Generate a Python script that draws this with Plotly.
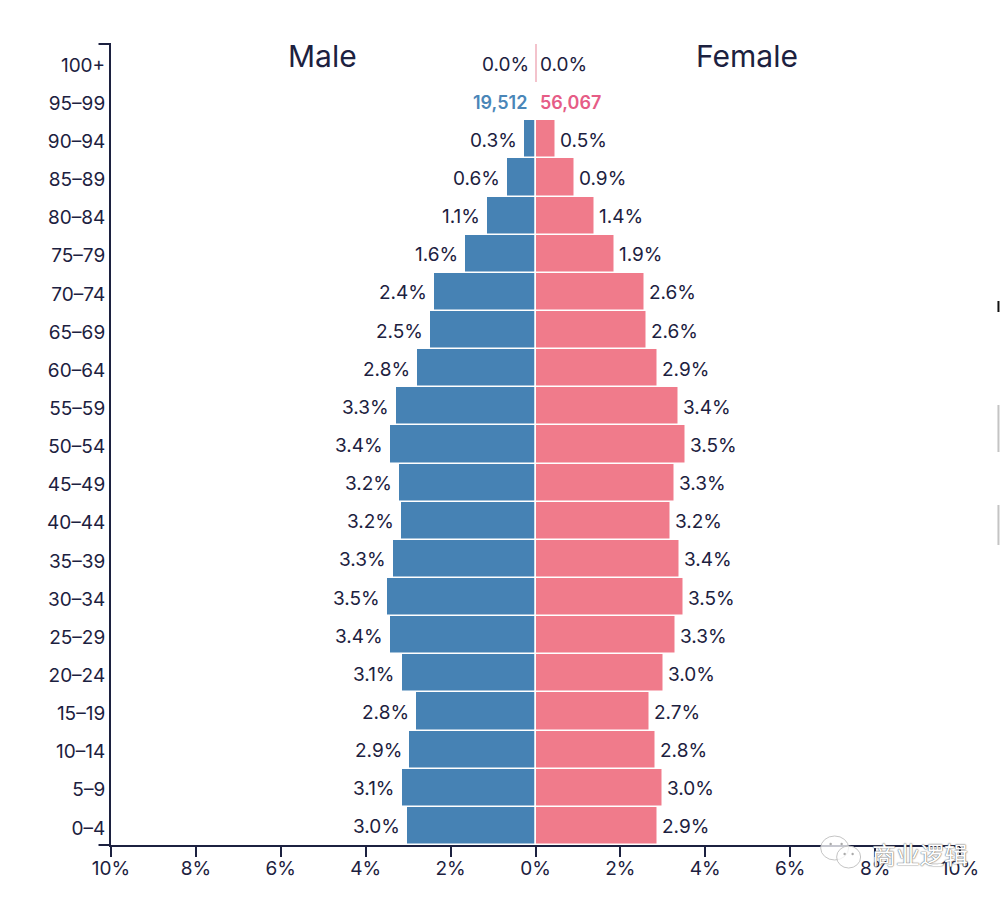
import plotly.graph_objects as go

age_groups = ["0–4","5–9","10–14","15–19","20–24","25–29","30–34","35–39","40–44","45–49",
              "50–54","55–59","60–64","65–69","70–74","75–79","80–84","85–89","90–94","95–99","100+"]
male_pct = [3.03,3.15,2.98,2.82,3.15,3.43,3.50,3.36,3.17,3.22,3.43,3.29,2.80,2.49,2.40,1.67,1.14,0.67,0.27,0,0]
female_pct = [2.89,3.00,2.84,2.70,3.03,3.31,3.50,3.40,3.19,3.29,3.54,3.38,2.89,2.63,2.58,1.87,1.41,0.94,0.49,0,0.02]
male_labels = ["3.0%","3.1%","2.9%","2.8%","3.1%","3.4%","3.5%","3.3%","3.2%","3.2%","3.4%","3.3%","2.8%","2.5%","2.4%","1.6%","1.1%","0.6%","0.3%","19,512","0.0%"]
female_labels = ["2.9%","3.0%","2.8%","2.7%","3.0%","3.3%","3.5%","3.4%","3.2%","3.3%","3.5%","3.4%","2.9%","2.6%","2.6%","1.9%","1.4%","0.9%","0.5%","56,067","0.0%"]
x_ticks = [-10,-8,-6,-4,-2,0,2,4,6,8,10]
x_tick_labels = ["10%","8%","6%","4%","2%","0%","2%","4%","6%","8%","10%"]

INK = "#1c2140"
BLUE = "#4682b4"
PINK = "#f07b8b"
PALE_PINK = "#f3c3cc"
FONT = "Inter, 'Noto Sans', sans-serif"
W, H = 1000, 898
L, R, T, B = 110.5, 960.5, 44, 845

def px(x): return (x - L) / (R - L)
def py(y): return (B - y) / (B - T)

fig = go.Figure()
fig.add_bar(y=age_groups, x=[-v for v in male_pct], orientation="h",
            marker=dict(color=BLUE, line=dict(color="white", width=1.5)), hoverinfo="skip")
fig.add_bar(y=age_groups, x=female_pct, orientation="h",
            marker=dict(color=[PALE_PINK if v < 0.1 else PINK for v in female_pct],
                        line=dict(color="white", width=[0 if v < 0.1 else 1.5 for v in female_pct])),
            hoverinfo="skip")

shapes = [
    dict(type="line", xref="paper", yref="paper", x0=px(98), x1=px(L), y0=0, y1=0, line=dict(color=INK, width=2)),
    dict(type="line", xref="paper", yref="paper", x0=px(98), x1=px(L), y0=1, y1=1, line=dict(color=INK, width=2)),
]
for cx, cy, rx, ry in [(835, 848, 14, 12), (849, 857, 12, 11)]:
    shapes.append(dict(type="circle", xref="paper", yref="paper", layer="above",
                       x0=px(cx-rx), x1=px(cx+rx), y0=py(cy+ry), y1=py(cy-ry),
                       fillcolor="rgba(255,255,255,0.75)", line=dict(color="rgba(190,190,190,0.9)", width=1)))
for cx, cy in [(831, 844), (842, 844), (845, 854), (853, 854)]:
    shapes.append(dict(type="circle", xref="paper", yref="paper", layer="above",
                       x0=px(cx-1.2), x1=px(cx+1.2), y0=py(cy+1.2), y1=py(cy-1.2),
                       fillcolor="#aaaaaa", line=dict(width=0)))
for y0, y1, col in [(301, 312, "#111111"), (405, 452, "#c4c4c4"), (505, 545, "#c4c4c4")]:
    shapes.append(dict(type="rect", xref="paper", yref="paper", x0=px(998), x1=px(1000),
                       y0=py(y1), y1=py(y0), fillcolor=col, line=dict(width=0)))

annotations = [
    dict(text="Male", x=px(322), y=py(56), xref="paper", yref="paper", showarrow=False,
         xanchor="center", yanchor="middle", font=dict(family=FONT, size=30, color=INK)),
    dict(text="Female", x=px(747), y=py(56), xref="paper", yref="paper", showarrow=False,
         xanchor="center", yanchor="middle", font=dict(family=FONT, size=30, color=INK)),
    dict(text="商业逻辑", x=px(920), y=py(853), xref="paper", yref="paper", showarrow=False,
         xanchor="center", yanchor="middle",
         font=dict(family="Noto Sans CJK SC", size=24, color="white",
                   shadow="0 0 1.5px #666, 0 0 1px #666")),
]
for age, m, f, ml, fl in zip(age_groups, male_pct, female_pct, male_labels, female_labels):
    special = age == "95–99"
    annotations.append(dict(text=ml, x=-m, y=age, xref="x", yref="y", showarrow=False,
                            xanchor="right", yanchor="middle", xshift=-7 if special else -5, yshift=-1,
                            font=dict(family=FONT, size=18 if special else 19,
                                      color="#4a86b8" if special else INK, weight=600 if special else 400)))
    annotations.append(dict(text=fl, x=f, y=age, xref="x", yref="y", showarrow=False,
                            xanchor="left", yanchor="middle", xshift=2, yshift=-1,
                            font=dict(family=FONT, size=18 if special else 19,
                                      color="#e65c86" if special else INK, weight=600 if special else 400)))

fig.update_layout(
    width=W, height=H, autosize=False,
    margin=dict(l=L, r=W-R, t=T, b=H-B, pad=0),
    paper_bgcolor="white", plot_bgcolor="white",
    barmode="relative", bargap=0, showlegend=False,
    font=dict(family=FONT, size=18, color=INK),
    shapes=shapes, annotations=annotations,
    xaxis=dict(range=[-10, 10], tickvals=x_ticks, ticktext=x_tick_labels, showgrid=False, zeroline=False,
               showline=True, linecolor=INK, linewidth=2, ticks="outside", ticklen=10, tickwidth=1.5,
               tickcolor=INK, tickfont=dict(family=FONT, size=19, color=INK), ticklabelstandoff=-5, fixedrange=True),
    yaxis=dict(type="category", categoryorder="array", categoryarray=age_groups, showgrid=False, zeroline=False,
               showline=True, linecolor=INK, linewidth=2, ticks="", ticklabelstandoff=0, ticklabelshift=2,
               tickfont=dict(family=FONT, size=19, color=INK), fixedrange=True),
)

fig.write_html("out.html", config=dict(displayModeBar=False),
               post_script="document.body.style.margin='0';")
